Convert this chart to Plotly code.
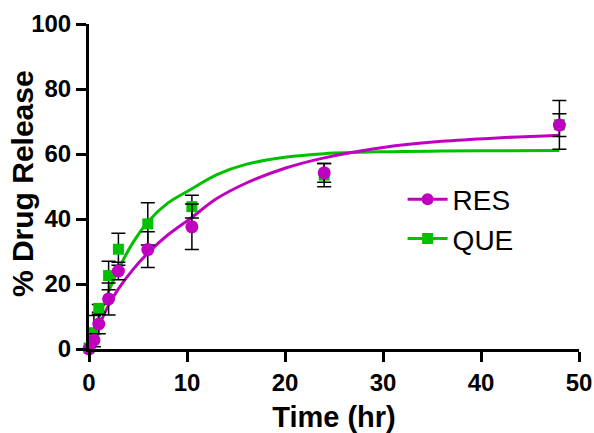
import plotly.graph_objects as go

# Measured data points
time_pts = [0, 0.5, 1, 2, 3, 6, 10.5, 24, 48]
res_vals = [0, 2.7, 7.7, 15.4, 24.0, 30.6, 37.6, 54.2, 68.9]
res_err = [0.6, 2.0, 3.0, 4.9, 2.7, 5.5, 7.0, 2.9, 3.5]
que_vals = [0.3, 5.0, 12.5, 22.6, 30.7, 38.5, 43.8, 53.5, 69.0]
que_err = [0.6, 5.3, 1.2, 4.4, 4.9, 6.5, 3.5, 3.6, 7.5]

# Fitted curves
curve_t = [0, 0.5, 1, 2, 3, 4.5, 6, 8, 10.5, 13, 16, 20, 24, 30, 36, 42, 48]
res_curve = [0, 3.5, 7.0, 13.5, 18.5, 24.5, 29.5, 35.0, 40.5, 46.2, 51.0, 55.6, 58.8, 62.0, 63.9, 65.0, 65.8]
que_curve = [0, 5.0, 9.6, 17.6, 24.5, 32.8, 39.1, 44.8, 49.3, 53.6, 56.8, 59.0, 60.1, 60.7, 60.9, 61.0, 61.1]

x_ticks = [0, 10, 20, 30, 40, 50]
y_ticks = [0, 20, 40, 60, 80, 100]

MAG = "#C000C0"
GRN = "#00C000"
FONT = "Arial, Liberation Sans, sans-serif"

fig = go.Figure()

fig.add_trace(go.Scatter(x=curve_t, y=que_curve, mode="lines", line=dict(color=GRN, width=3, shape="spline"),
                         showlegend=False, hoverinfo="skip"))
fig.add_trace(go.Scatter(x=curve_t, y=res_curve, mode="lines", line=dict(color=MAG, width=3, shape="spline"),
                         showlegend=False, hoverinfo="skip"))

fig.add_trace(go.Scatter(x=time_pts, y=que_vals, mode="markers",
                         marker=dict(symbol="square", size=11, color=GRN),
                         error_y=dict(type="data", array=que_err, color="black", thickness=1.5, width=7),
                         showlegend=False, cliponaxis=False))
fig.add_trace(go.Scatter(x=time_pts, y=res_vals, mode="markers",
                         marker=dict(symbol="circle", size=13, color=MAG),
                         error_y=dict(type="data", array=res_err, color="black", thickness=1.5, width=7),
                         showlegend=False, cliponaxis=False))

# legend entries
fig.add_trace(go.Scatter(x=[None], y=[None], mode="lines+markers", name="RES",
                         line=dict(color=MAG, width=3), marker=dict(symbol="circle", size=12, color=MAG)))
fig.add_trace(go.Scatter(x=[None], y=[None], mode="lines+markers", name="QUE",
                         line=dict(color=GRN, width=3), marker=dict(symbol="square", size=11, color=GRN)))

axis_common = dict(showgrid=False, zeroline=False, showline=True, linecolor="black", linewidth=3,
                   ticks="outside", ticklen=10, tickwidth=3, tickcolor="black", automargin=False,
                   tickfont=dict(family=FONT, size=24, color="black", weight="bold"))

fig.update_layout(
    width=594, height=433,
    margin=dict(l=89, r=15, t=24, b=84),
    paper_bgcolor="white", plot_bgcolor="white",
    font=dict(family=FONT, color="black"),
    xaxis=dict(range=[0, 50], tickvals=x_ticks, **axis_common,
               title=dict(text="<b>Time (hr)</b>", font=dict(family=FONT, size=29, color="black"), standoff=14)),
    yaxis=dict(range=[0, 100], tickvals=y_ticks, **axis_common),
    legend=dict(x=0.64, y=0.40, xanchor="left", yanchor="middle", bgcolor="rgba(0,0,0,0)",
                font=dict(family=FONT, size=28, color="black"), tracegroupgap=0, itemwidth=40),
    annotations=[dict(text="<b>% Drug Release</b>", textangle=-90, showarrow=False,
                      xref="paper", yref="paper", x=-0.137, y=0.51, xanchor="center", yanchor="middle",
                      font=dict(family=FONT, size=30, color="black"))],
)

fig.write_html("out.html", config={"displayModeBar": False},
               post_script="document.body.style.margin='0';document.body.style.overflow='hidden';")
